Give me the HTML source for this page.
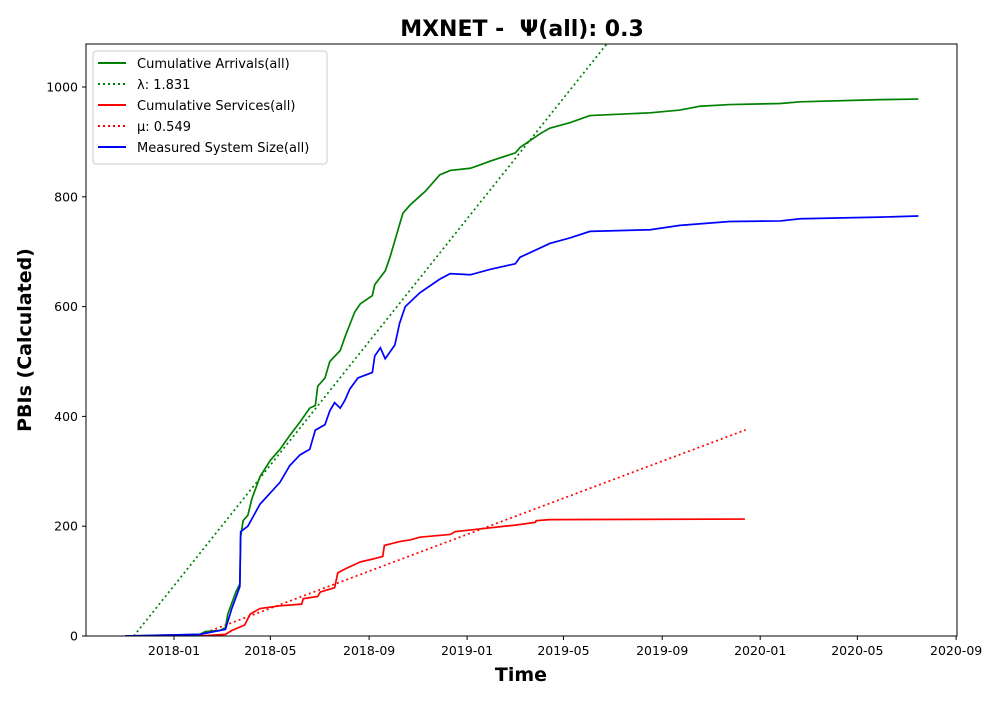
<!DOCTYPE html>
<html><head><meta charset="utf-8"><style>
body{margin:0;background:#fff;font-family:"Liberation Sans","DejaVu Sans",sans-serif}
</style></head><body>
<svg id="chart" width="1000" height="700" xmlns="http://www.w3.org/2000/svg" font-family="DejaVu Sans, Liberation Sans, sans-serif">
<rect width="1000" height="700" fill="#fff"/>
<text x="522" y="36" font-size="22" font-weight="bold" text-anchor="middle" style="white-space:pre">MXNET -  Ψ(all): 0.3</text>
<text x="521" y="681" font-size="19" font-weight="bold" text-anchor="middle">Time</text>
<text transform="translate(31,340) rotate(-90)" font-size="19" font-weight="bold" text-anchor="middle">PBIs (Calculated)</text>
<defs><clipPath id="clip"><rect x="86" y="44" width="871" height="592"/></clipPath></defs>
<g id="axes"></g>
<g id="series" clip-path="url(#clip)"></g>
<rect x="86" y="44" width="871" height="592" fill="none" stroke="#000" stroke-width="1"/>
<g id="legend">
<rect x="93" y="51" width="234" height="113" fill="#fff" stroke="#ccc" rx="3"/>
</g>
</svg>
<script>
const arrDays=[-61,32,39,57,64,67,72,77,82,83,86,92,97,107,120,132,144,157,169,176,179,188,194,207,213,225,232,247,250,263,269,275,285,294,313,331,344,369,381,394,425,431,446,456,468,493,518,593,630,655,692,755,780,879,927];
const arrVals=[0,3,8,10,15,40,60,80,95,180,210,220,250,290,320,340,365,390,415,420,455,470,500,520,545,590,605,620,640,665,690,720,770,785,810,840,848,852,858,865,880,890,905,915,925,935,948,953,958,965,968,970,973,977,978];
const sysDays=[-61,32,64,72,82,83,92,107,132,144,157,169,176,188,194,200,207,213,219,229,247,250,257,263,275,281,288,306,331,344,369,394,425,431,446,468,493,518,593,630,692,755,780,879,927];
const sysVals=[0,3,12,50,90,190,200,240,280,310,330,340,375,385,410,425,415,430,450,470,480,510,525,505,530,570,600,625,650,660,658,668,678,690,700,715,725,737,740,748,755,756,760,763,765];
const svcDays=[32,64,72,88,95,107,132,159,161,179,182,200,204,213,232,247,260,262,281,294,306,344,350,381,425,450,451,468,711];
const svcVals=[0,3,10,20,40,50,55,58,68,72,80,88,115,122,135,140,145,165,172,175,180,185,190,195,202,207,210,212,213];
const lambdaRate=[1.831], lambdaStart=[-50], lambdaEnd=[700];
const muRate=[0.549], muStart=[28], muEnd=[712];
const yTicks=[0,200,400,600,800,1000];
const xTickLabels=["2018-01","2018-05","2018-09","2019-01","2019-05","2019-09","2020-01","2020-05","2020-09"];
const xTickDays=[0,120,243,365,485,608,730,851,974];

const NS="http://www.w3.org/2000/svg";
const X=d=>174+d*0.803, Y=v=>636-v*0.549;
function el(t,a,p){const e=document.createElementNS(NS,t);for(const k in a)e.setAttribute(k,a[k]);p.appendChild(e);return e;}
const axes=document.getElementById('axes'), series=document.getElementById('series'), legend=document.getElementById('legend');
yTicks.forEach(v=>{
 const t=el('line',{x1:82,x2:86,y1:Y(v),y2:Y(v),stroke:'#000'},axes);
 
 
 const l=el('text',{x:78,y:Y(v)+4.5,'font-size':12.5,'text-anchor':'end'},axes);l.textContent=v;
 
 
});
xTickDays.forEach((d,i)=>{
 const t=el('line',{x1:X(d),x2:X(d),y1:636,y2:640,stroke:'#000'},axes);
 
 
 const l=el('text',{x:X(d),y:655,'font-size':12.5,'text-anchor':'middle'},axes);l.textContent=xTickLabels[i];
 
 
});
function poly(ds,vs,color,dash,name){
 const p=el('polyline',{points:ds.map((d,i)=>X(d)+','+Y(vs[i])).join(' '),fill:'none',stroke:color,'stroke-width':1.7,'stroke-dasharray':dash||''},series);
 
 
}
poly([lambdaStart[0],lambdaEnd[0]],[0,(lambdaEnd[0]-lambdaStart[0])*lambdaRate[0]],'green','2,3','lambda-fit-line');
poly([muStart[0],muEnd[0]],[0,(muEnd[0]-muStart[0])*muRate[0]],'red','2,3','mu-fit-line');
poly(arrDays,arrVals,'green','','cumulative-arrivals-line');
poly(svcDays,svcVals,'red','','cumulative-services-line');
poly(sysDays,sysVals,'blue','','system-size-line');
const leg=[['green','','Cumulative Arrivals(all)'],['green','2,3','λ: 1.831'],['red','','Cumulative Services(all)'],['red','2,3','μ: 0.549'],['blue','','Measured System Size(all)']];
leg.forEach((e,i)=>{
 const y=63+i*21;
 const ln=el('line',{x1:98,x2:126,y1:y,y2:y,stroke:e[0],'stroke-width':2,'stroke-dasharray':e[1]},legend);
 
 
 const t=el('text',{x:137,y:y+5,'font-size':13},legend);t.textContent=e[2];
 
 
});
</script>
</body></html>
